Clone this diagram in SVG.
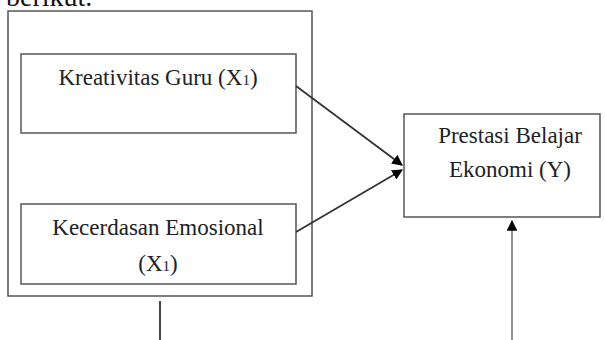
<svg xmlns="http://www.w3.org/2000/svg" width="605" height="340" viewBox="0 0 605 340">
<style>
.box{fill:#fff;stroke:#555;stroke-width:1.5}
.t{font-family:"Liberation Serif","Times New Roman",serif;font-size:23px;fill:#222;text-anchor:middle}
.sub{font-size:15px}
.ln{stroke:#333;stroke-width:1.8;fill:none}
</style>
<defs>
<marker id="ah" viewBox="0 0 10 10" refX="9" refY="5" markerWidth="6" markerHeight="6" orient="auto" markerUnits="strokeWidth">
<path d="M0,0 L10,5 L0,10 z" fill="#000"/>
</marker>
</defs>
<rect width="605" height="340" fill="#fff"/>
<text x="6" y="6" style="font-family:'Liberation Serif',serif;font-size:28px;fill:#111">berikut.</text>
<g id="outer"><rect class="box" x="8" y="11" width="304" height="285"/></g>
<g id="x1"><rect class="box" x="21" y="54" width="275" height="79"/>
<text class="t" x="158" y="85">Kreativitas Guru (X<tspan class="sub">1</tspan>)</text></g>
<g id="x2"><rect class="box" x="21" y="204" width="275" height="80"/>
<text class="t" x="158" y="235">Kecerdasan Emosional</text>
<text class="t" x="158" y="271">(X<tspan class="sub">1</tspan>)</text></g>
<g id="y"><rect class="box" x="404" y="114" width="196" height="103"/>
<text class="t" x="510" y="143">Prestasi Belajar</text>
<text class="t" x="510" y="177">Ekonomi (Y)</text></g>
<g id="connectors">
<line class="ln" x1="296" y1="86" x2="402" y2="165" marker-end="url(#ah)"/>
<line class="ln" x1="296" y1="232" x2="402" y2="170" marker-end="url(#ah)"/>
<line class="ln" x1="160" y1="301" x2="160" y2="340"/>
<line x1="512" y1="340" x2="512" y2="221" stroke="#888" stroke-width="1.8" marker-end="url(#ah)"/>
</g>
</svg>
